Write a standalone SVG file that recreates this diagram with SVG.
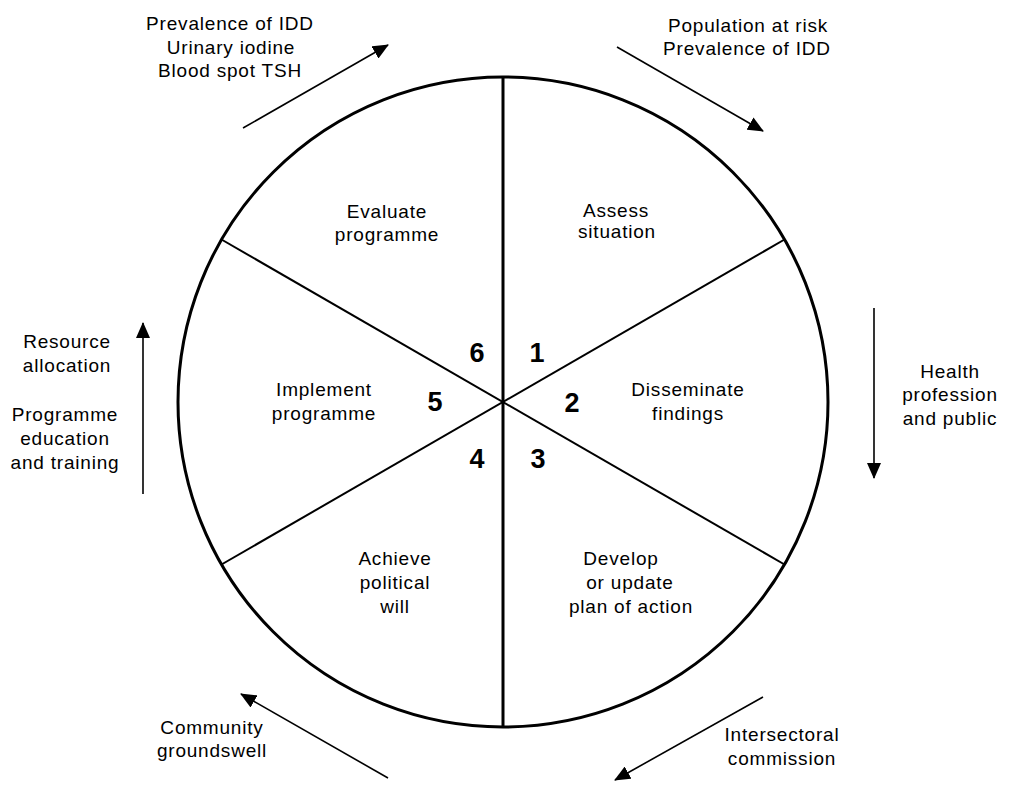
<svg xmlns="http://www.w3.org/2000/svg" width="1014" height="796" viewBox="0 0 1014 796">
<style>
text{font-family:"Liberation Sans",Arial,sans-serif;fill:#000;text-anchor:middle}
.lbl{font-size:19px;letter-spacing:0.8px}
.num{font-size:27px;font-weight:bold}
.arr{stroke:#000;stroke-width:1.6;fill:none;marker-end:url(#ah)}
</style>
<defs>
<marker id="ah" markerUnits="userSpaceOnUse" markerWidth="16" markerHeight="14" refX="15" refY="7" orient="auto">
<path d="M0,0 L16,7 L0,14 z" fill="#000"/>
</marker>
</defs>
<rect width="1014" height="796" fill="#fff"/>
<g id="wheel">
<circle cx="503" cy="402" r="325" fill="none" stroke="#000" stroke-width="3"/>
<line x1="503" y1="77" x2="503" y2="727" stroke="#000" stroke-width="3"/>
<line x1="221.5" y1="239.5" x2="784.5" y2="564.5" stroke="#000" stroke-width="2"/>
<line x1="221.5" y1="564.5" x2="784.5" y2="239.5" stroke="#000" stroke-width="2"/>
</g>
<g id="step1">
<text class="lbl" x="616" y="217">Assess</text>
<text class="lbl" x="617" y="238">situation</text>
<text class="num" x="537" y="362">1</text>
</g>
<g id="step2">
<text class="lbl" x="688" y="396">Disseminate</text>
<text class="lbl" x="688" y="420">findings</text>
<text class="num" x="572" y="412">2</text>
</g>
<g id="step3">
<text class="lbl" x="621" y="565">Develop</text>
<text class="lbl" x="630" y="589">or update</text>
<text class="lbl" x="631" y="613">plan of action</text>
<text class="num" x="538" y="468">3</text>
</g>
<g id="step4">
<text class="lbl" x="395" y="565">Achieve</text>
<text class="lbl" x="395" y="589">political</text>
<text class="lbl" x="395" y="613">will</text>
<text class="num" x="477" y="468">4</text>
</g>
<g id="step5">
<text class="lbl" x="324" y="396">Implement</text>
<text class="lbl" x="324" y="420">programme</text>
<text class="num" x="435" y="411">5</text>
</g>
<g id="step6">
<text class="lbl" x="387" y="218">Evaluate</text>
<text class="lbl" x="387" y="241">programme</text>
<text class="num" x="477" y="362">6</text>
</g>
<g id="note-top-right">
<text class="lbl" x="748" y="32">Population at risk</text>
<text class="lbl" x="747" y="55">Prevalence of IDD</text>
</g>
<g id="note-right">
<text class="lbl" x="950" y="378">Health</text>
<text class="lbl" x="950" y="401">profession</text>
<text class="lbl" x="950" y="425">and public</text>
</g>
<g id="note-bottom-right">
<text class="lbl" x="782" y="741">Intersectoral</text>
<text class="lbl" x="782" y="765">commission</text>
</g>
<g id="note-bottom-left">
<text class="lbl" x="212" y="734">Community</text>
<text class="lbl" x="212" y="757">groundswell</text>
</g>
<g id="note-left">
<text class="lbl" x="67" y="348">Resource</text>
<text class="lbl" x="67" y="372">allocation</text>
<text class="lbl" x="65" y="421">Programme</text>
<text class="lbl" x="65" y="445">education</text>
<text class="lbl" x="65" y="469">and training</text>
</g>
<g id="note-top-left">
<text class="lbl" x="230" y="30">Prevalence of IDD</text>
<text class="lbl" x="231" y="54">Urinary iodine</text>
<text class="lbl" x="230" y="77">Blood spot TSH</text>
</g>
<g id="connectors">
<line class="arr" x1="617" y1="47" x2="763" y2="131"/>
<line class="arr" x1="874" y1="308" x2="874" y2="478"/>
<line class="arr" x1="763" y1="697" x2="615" y2="780"/>
<line class="arr" x1="388" y1="778" x2="241" y2="694"/>
<line class="arr" x1="143" y1="494" x2="143" y2="323"/>
<line class="arr" x1="243" y1="128" x2="388" y2="45"/>
</g>
</svg>
